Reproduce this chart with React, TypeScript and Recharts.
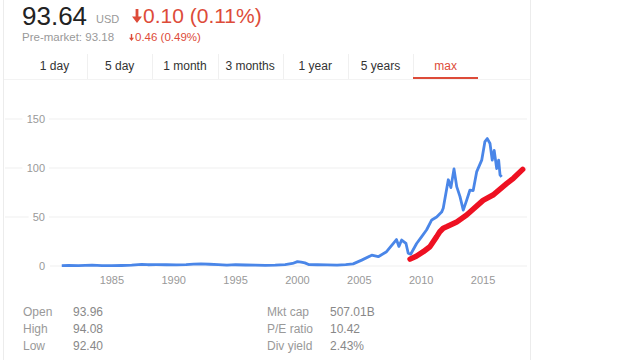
import React from 'react';
import { LineChart, Line, XAxis, YAxis, CartesianGrid } from 'recharts';

const priceYears = [
  1980.95, 1981.5, 1982.3, 1983.4, 1984.2, 1985.0, 1985.8, 1986.6, 1987.4, 1987.9, 1988.6, 1989.4,
  1990.2, 1991.0, 1991.6, 1992.2, 1992.9, 1993.6, 1994.3, 1995.0, 1995.8, 1996.6, 1997.4, 1998.2,
  1999.0, 1999.6, 2000.0, 2000.3, 2000.6, 2000.9, 2001.6, 2002.4, 2003.2, 2003.9, 2004.5, 2005.19,
  2006.0, 2006.53, 2007.2, 2008.0, 2008.2, 2008.42, 2008.77, 2008.95, 2009.15, 2009.63, 2010.04,
  2010.44, 2010.85, 2011.25, 2011.65, 2011.78, 2012.19, 2012.4, 2012.65, 2012.87, 2013.13, 2013.4,
  2013.67, 2013.94, 2014.2, 2014.48, 2014.89, 2015.15, 2015.34, 2015.56, 2015.74, 2015.9, 2016.1,
  2016.26, 2016.37, 2016.5,
];
const priceValues = [
  0.4, 0.5, 0.3, 0.8, 0.4, 0.3, 0.5, 0.9, 1.7, 1.3, 1.4, 1.3,
  1.2, 1.5, 1.9, 2.1, 1.8, 1.5, 0.9, 1.3, 1.0, 0.8, 0.6, 0.9,
  1.5, 2.6, 4.5, 4.0, 3.2, 1.5, 1.3, 1.1, 0.9, 1.3, 2.2, 6,
  11, 9.5, 14.6, 27, 20, 26.5, 23, 13, 12, 23, 30,
  37, 47, 50, 55, 59, 88, 80, 99, 81, 71, 57,
  67, 77.5, 77, 96, 108, 127, 130, 125, 108, 118, 99.5,
  108, 93, 91,
];

const trendYears = [2009.1, 2009.6, 2010.17, 2010.7, 2011.25, 2011.5, 2011.78, 2012.05, 2012.87, 2013.67, 2015.0, 2015.8, 2016.9, 2017.45, 2018.2];
const trendValues = [7, 10, 14.6, 19.7, 30, 35, 38.5, 40, 45, 52, 67, 72.4, 84, 89.5, 98.6];

const xTicks = [1985, 1990, 1995, 2000, 2005, 2010, 2015];
const yTicks = [0, 50, 100, 150];

const tabs = ['1 day', '5 day', '1 month', '3 months', '1 year', '5 years', 'max'];

const statsLeft = [
  ['Open', '93.96'],
  ['High', '94.08'],
  ['Low', '92.40'],
];
const statsRight = [
  ['Mkt cap', '507.01B'],
  ['P/E ratio', '10.42'],
  ['Div yield', '2.43%'],
];

const priceData = priceYears.map((year, i) => ({ year, price: priceValues[i] }));
const trendData = trendYears.map((year, i) => ({ year, trend: trendValues[i] }));

const font = '"Liberation Sans", Arial, sans-serif';
const RED = '#dd4b39';

const abs = (left: number, top: number, extra: React.CSSProperties = {}): React.CSSProperties => ({
  position: 'absolute',
  left,
  top,
  whiteSpace: 'nowrap',
  ...extra,
});

const DownArrow = ({ w, h }: { w: number; h: number }) => (
  <svg width={w} height={h} viewBox="0 0 10 14" style={{ display: 'inline-block', verticalAlign: 'baseline', marginRight: 1 }}>
    <path d="M3.6 0 H6.4 V7.5 H10 L5 14 L0 7.5 H3.6 Z" fill={RED} />
  </svg>
);

// y tick: label with the gridline running on to the card edge
const YTick = (props: any) => {
  const { x, y, payload } = props;
  const label = String(payload.value);
  const w = label.length * 6.2;
  return (
    <g>
      {payload.value !== 0 && <line x1={5} x2={50} y1={y} y2={y} stroke="#efefef" />}
      <rect x={x - w - 4} y={y - 7} width={w + 8} height={14} fill="#fff" />
      <text x={x} y={y} dy="0.355em" textAnchor="end" fontSize={11} fill="#999" fontFamily={font}>
        {label}
      </text>
    </g>
  );
};

const App: React.FC = () => {
  return (
    <div
      style={{
        position: 'absolute',
        left: 0,
        top: 0,
        width: 640,
        height: 360,
        background: '#fff',
        fontFamily: font,
        overflow: 'hidden',
      }}
    >
      {/* card borders */}
      <div style={abs(3, 0, { width: 1, height: 360, background: '#ececec' })} />
      <div style={abs(530, 0, { width: 1, height: 360, background: '#ececec' })} />

      {/* header */}
      <div style={abs(22, 1, { fontSize: 26, color: '#222', lineHeight: '30px' })}>93.64</div>
      <div style={abs(96, 12, { fontSize: 11, color: '#999', lineHeight: '14px' })}>USD</div>
      <div style={abs(132, 3, { fontSize: 21, color: RED, lineHeight: '26px' })}>
        <DownArrow w={10} h={14} />
        0.10 (0.11%)
      </div>
      <div style={abs(22, 30, { fontSize: 11.5, color: '#999', lineHeight: '14px' })}>Pre-market: 93.18</div>
      <div style={abs(129, 30, { fontSize: 11.5, color: RED, lineHeight: '14px' })}>
        <DownArrow w={5} h={7} />
        0.46 (0.49%)
      </div>

      {/* tabs */}
      {tabs.map((t, i) => (
        <div
          key={t}
          style={abs(22 + i * 65.2, 56, {
            width: 65,
            textAlign: 'center',
            fontSize: 12,
            lineHeight: '20px',
            color: t === 'max' ? RED : '#333',
          })}
        >
          {t}
        </div>
      ))}
      {[1, 2, 3, 4, 5, 6].map((i) => (
        <div key={i} style={abs(22 + i * 65.2, 54, { width: 1, height: 26, background: '#f0f0f0' })} />
      ))}
      <div style={abs(4, 79, { width: 526, height: 1, background: '#f3f3f3' })} />
      <div style={abs(413, 77, { width: 65, height: 2, background: RED })} />

      {/* chart */}
      <div style={abs(0, 0)}>
        <LineChart width={640} height={360} margin={{ top: 119, right: 113, bottom: 64, left: 10 }}>
          <CartesianGrid horizontal vertical={false} stroke="#efefef" />
          <XAxis
            type="number"
            dataKey="year"
            domain={[1980, 2018.55]}
            ticks={xTicks}
            allowDataOverflow
            axisLine={false}
            tickLine={false}
            tickSize={0}
            tickMargin={10}
            height={30}
            tick={{ fontSize: 11, fill: '#999', fontFamily: font }}
          />
          <YAxis
            type="number"
            domain={[0, 150]}
            ticks={yTicks}
            axisLine={false}
            tickLine={false}
            tickSize={0}
            tickMargin={5}
            width={40}
            tick={<YTick />}
          />
          <Line
            data={priceData}
            dataKey="price"
            type="linear"
            stroke="#4a86e8"
            strokeWidth={2.8}
            strokeLinejoin="round"
            dot={false}
            isAnimationActive={false}
          />
          <Line
            data={trendData}
            dataKey="trend"
            type="linear"
            stroke="#ee1122"
            strokeWidth={5.5}
            strokeLinecap="round"
            strokeLinejoin="round"
            dot={false}
            isAnimationActive={false}
          />
        </LineChart>
      </div>

      {/* stats */}
      {statsLeft.map(([k, v], i) => (
        <React.Fragment key={k}>
          <div style={abs(23, 305 + i * 17, { fontSize: 12, color: '#999', lineHeight: '14px' })}>{k}</div>
          <div style={abs(73, 305 + i * 17, { fontSize: 12, color: '#888', lineHeight: '14px' })}>{v}</div>
        </React.Fragment>
      ))}
      {statsRight.map(([k, v], i) => (
        <React.Fragment key={k}>
          <div style={abs(267, 305 + i * 17, { fontSize: 12, color: '#999', lineHeight: '14px' })}>{k}</div>
          <div style={abs(330, 305 + i * 17, { fontSize: 12, color: '#888', lineHeight: '14px' })}>{v}</div>
        </React.Fragment>
      ))}
    </div>
  );
};

export default App;
